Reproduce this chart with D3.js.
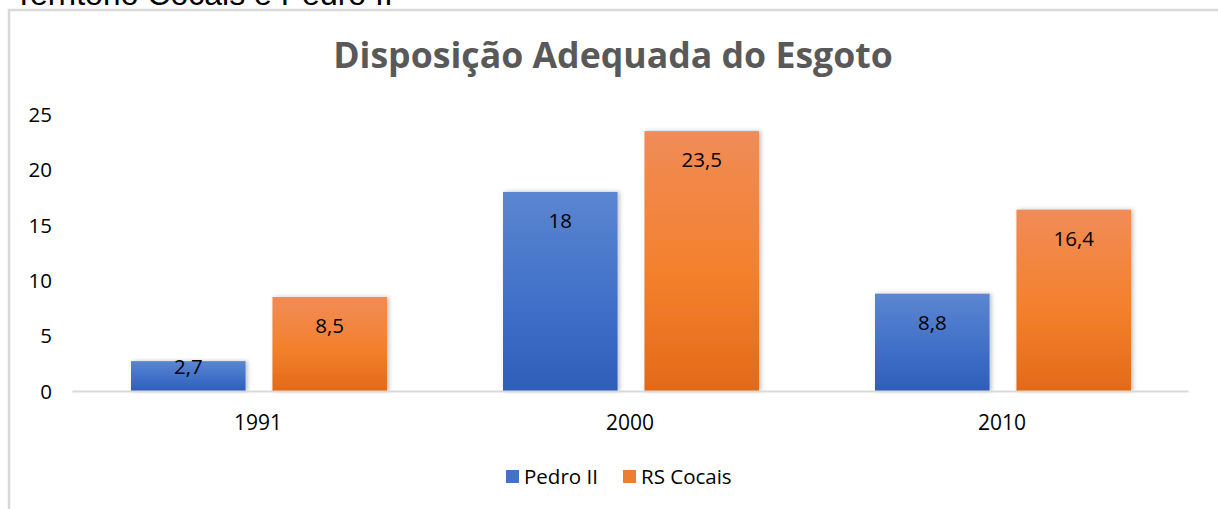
<!DOCTYPE html>
<html><head><meta charset="utf-8">
<script src="https://cdn.jsdelivr.net/npm/d3@7"></script>
<style>body{margin:0;background:#fff}svg{display:block}</style>
</head><body>
<script>
const categories = ["1991", "2000", "2010"];
const seriesNames = ["Pedro II", "RS Cocais"];
const pedroII = [2.7, 18, 8.8];
const rsCocais = [8.5, 23.5, 16.4];
const yTicks = [0, 5, 10, 15, 20, 25];
const labelText = ["2,7", "8,5", "18", "23,5", "8,8", "16,4"];

const W = 1218, H = 509;
const svg = d3.select("body").append("svg").attr("width", W).attr("height", H);
const defs = svg.append("defs");
const grads = [
  {id: "gBlue", top: "#5b86d1", mid: "#4170c8", bot: "#2d5fba"},
  {id: "gOrange", top: "#f08c58", mid: "#f4802c", bot: "#e26a18"}
];
grads.forEach(g => {
  const lg = defs.append("linearGradient").attr("id", g.id).attr("x1", 0).attr("y1", 0).attr("x2", 0).attr("y2", 1);
  lg.append("stop").attr("offset", "0%").attr("stop-color", g.top);
  lg.append("stop").attr("offset", "55%").attr("stop-color", g.mid);
  lg.append("stop").attr("offset", "100%").attr("stop-color", g.bot);
});
const f = defs.append("filter").attr("id", "sh").attr("x", "-10%").attr("y", "-10%").attr("width", "130%").attr("height", "120%");
f.append("feDropShadow").attr("dx", 2).attr("dy", 0).attr("stdDeviation", 2).attr("flood-color", "#000").attr("flood-opacity", 0.25);

const FONT = "Open Sans, Liberation Sans";

// top cut-off text (partly outside the picture, as in the reference)
svg.append("text").attr("x", 14).attr("y", 5).attr("font-family", "Liberation Sans, Arial").attr("font-size", 32).attr("fill", "#000")
  .text("Território Cocais e Pedro II");

// frame
svg.append("path").attr("d", "M9,515 V10 H1225").attr("fill", "none").attr("stroke", "#d9d9d9").attr("stroke-width", 2.5);

// title
const title = svg.append("text").attr("x", 613).attr("y", 68).attr("text-anchor", "middle")
  .attr("font-family", FONT).attr("font-weight", "bold").attr("font-size", 32).attr("fill", "#595959")
  .text("Disposição Adequada do Esgoto");
{
  const w = title.node().getComputedTextLength();
  title.attr("font-size", 32 * 560 / w);
}

const x0 = d3.scaleBand().domain(categories).range([72, 1188]).paddingInner(0).paddingOuter(0);
const x1 = d3.scaleBand().domain(seriesNames).range([59, 372 - 57]).paddingInner(0.19);
const y = d3.scaleLinear().domain([0, 25]).range([391, 114.5]);

// y axis labels
const yAxis = d3.axisLeft(y).tickValues(yTicks).tickSize(0).tickPadding(0);
const ya = svg.append("g").attr("transform", "translate(52,0)").call(yAxis);
ya.select(".domain").remove();
ya.selectAll("text").attr("font-family", FONT).attr("font-size", 20.5).attr("fill", "#000").attr("dy", "0.35em");

// bars
const data = [];
categories.forEach((c, i) => {
  data.push({c, s: seriesNames[0], v: pedroII[i], fill: "url(#gBlue)", lab: labelText[i * 2]});
  data.push({c, s: seriesNames[1], v: rsCocais[i], fill: "url(#gOrange)", lab: labelText[i * 2 + 1]});
});
const g = svg.append("g");
g.selectAll("rect").data(data).enter().append("rect")
  .attr("x", d => x0(d.c) + x1(d.s))
  .attr("y", d => y(d.v))
  .attr("width", x1.bandwidth())
  .attr("height", d => y(0) - y(d.v))
  .attr("fill", d => d.fill)
  .attr("filter", "url(#sh)");

// axis line
const xAxis = d3.axisBottom(x0).tickSize(0).tickPadding(0);
const xa = svg.append("g").attr("transform", "translate(0,391)").call(xAxis);
xa.select(".domain").attr("stroke", "#d9d9d9").attr("stroke-width", 2);
xa.selectAll("text").attr("font-family", FONT).attr("font-size", 21).attr("fill", "#000").attr("dy", 39);

// data labels
g.selectAll("text.lab").data(data).enter().append("text").attr("class", "lab")
  .attr("x", d => x0(d.c) + x1(d.s) + x1.bandwidth() / 2)
  .attr("y", d => Math.min(y(d.v) + 29, (y(d.v) + y(0)) / 2 - 9))
  .attr("dy", "0.35em")
  .attr("text-anchor", "middle")
  .attr("font-family", FONT).attr("font-size", 20.5).attr("fill", "#000")
  .text(d => d.lab);

// legend
const leg = svg.append("g");
const legItems = [{n: seriesNames[0], c: "#4472c4", x: 506}, {n: seriesNames[1], c: "#ed7d31", x: 623}];
legItems.forEach(it => {
  leg.append("rect").attr("x", it.x).attr("y", 470).attr("width", 13).attr("height", 13).attr("fill", it.c);
  leg.append("text").attr("x", it.x + 18).attr("y", 477).attr("dy", "0.35em")
    .attr("font-family", FONT).attr("font-size", 20.5).attr("fill", "#000").text(it.n);
});
</script>
</body></html>
